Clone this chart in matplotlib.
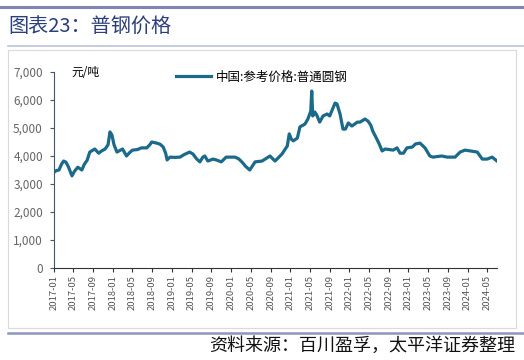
import matplotlib
matplotlib.use("Agg")
import matplotlib.pyplot as plt
import matplotlib.dates as mdates
from matplotlib.lines import Line2D
from matplotlib.patches import Rectangle
import pandas as pd

plt.rcParams['font.family'] = ['Noto Sans CJK SC', 'DejaVu Sans']

# 中国:参考价格:普通圆钢 (元/吨)
dates = [
    "2017-01-01", "2017-01-16", "2017-02-01", "2017-02-16", "2017-03-01", "2017-03-16",
    "2017-04-01", "2017-04-22", "2017-05-07", "2017-05-28", "2017-06-22", "2017-07-07",
    "2017-07-25", "2017-08-10", "2017-09-10", "2017-10-04", "2017-10-22", "2017-11-13",
    "2017-12-01", "2017-12-13", "2017-12-25", "2018-01-07", "2018-01-25", "2018-02-13",
    "2018-03-01", "2018-03-25", "2018-04-13", "2018-05-01", "2018-06-01", "2018-06-25",
    "2018-07-28", "2018-08-16", "2018-08-28", "2018-09-28", "2018-10-19", "2018-11-07",
    "2018-11-22", "2018-12-01", "2018-12-19", "2019-01-16", "2019-02-19", "2019-03-16",
    "2019-04-19", "2019-05-10", "2019-06-01", "2019-06-22", "2019-07-10", "2019-07-22",
    "2019-08-10", "2019-09-10", "2019-10-01", "2019-11-01", "2019-12-01", "2020-01-25",
    "2020-02-16", "2020-03-07", "2020-04-01", "2020-04-25", "2020-05-28", "2020-07-10",
    "2020-08-28", "2020-09-28", "2020-11-10", "2020-12-13", "2020-12-25", "2021-01-07",
    "2021-01-19", "2021-02-13", "2021-03-01", "2021-04-01", "2021-04-19", "2021-05-07",
    "2021-05-13", "2021-05-19", "2021-06-01", "2021-06-13", "2021-07-01", "2021-07-22",
    "2021-08-16", "2021-09-01", "2021-10-04", "2021-10-16", "2021-11-04", "2021-11-22",
    "2021-12-07", "2021-12-25", "2022-01-16", "2022-02-19", "2022-03-07", "2022-04-07",
    "2022-04-25", "2022-05-13", "2022-05-25", "2022-06-19", "2022-07-04", "2022-07-22",
    "2022-08-10", "2022-09-28", "2022-10-22", "2022-11-10", "2022-12-01", "2022-12-22",
    "2023-01-25", "2023-02-13", "2023-03-13", "2023-04-13", "2023-05-13", "2023-06-01",
    "2023-07-25", "2023-08-28", "2023-10-16", "2023-11-16", "2023-12-16", "2024-01-19",
    "2024-03-01", "2024-04-01", "2024-05-01", "2024-06-01", "2024-07-01",
]
prices = [
    3420, 3480, 3500, 3700, 3820, 3780,
    3600, 3290, 3450, 3600, 3500, 3700,
    3850, 4140, 4250, 4100, 4180, 4250,
    4400, 4860, 4750, 4400, 4140, 4200,
    4250, 4000, 4120, 4210, 4230, 4290,
    4290, 4400, 4500, 4460, 4420, 4320,
    4100, 3860, 3960, 3950, 3960, 4050,
    4140, 4070, 3900, 3790, 3960, 4000,
    3820, 3890, 3860, 3790, 3960, 3960,
    3900, 3790, 3620, 3500, 3790, 3820,
    4000, 3820, 4070, 4360, 4790, 4600,
    4540, 4640, 5040, 5140, 5320, 5600,
    6320, 5430, 5570, 5460, 5210, 5430,
    5500, 5430, 5890, 5860, 5500, 4960,
    4960, 5180, 5070, 5210, 5210, 5320,
    5250, 5100, 4890, 4610, 4430, 4180,
    4250, 4210, 4290, 4100, 4100, 4290,
    4320, 4430, 4460, 4290, 4000, 3960,
    4000, 3960, 3960, 4140, 4210, 4180,
    4140, 3890, 3890, 3960, 3820,
]
series_name = "中国:参考价格:普通圆钢"
unit = "元/吨"
title = "图表23：普钢价格"
source = "资料来源：百川盈孚，太平洋证券整理"

x = pd.to_datetime(dates)
tick_dates = pd.date_range("2017-01-01", "2024-05-01", freq="4MS")

fig = plt.figure(figsize=(5.24, 3.6), dpi=100)

# decorative frame lines
fig.add_artist(Line2D([0.0, 1.0], [1 - 7/360, 1 - 7/360], color="#7F86B5", lw=2.2))
fig.add_artist(Line2D([0.015, 1.0], [1 - 46/360, 1 - 46/360], color="#BFC3DA", lw=1.2))
fig.add_artist(Line2D([0.015, 1.0], [1 - 333/360, 1 - 333/360], color="#8F95C0", lw=1.8))
fig.add_artist(Rectangle((8/524, 1 - 328/360), (516 - 8)/524, (328 - 50)/360,
                         fill=False, edgecolor="#DADADA", lw=0.8))

fig.text(8/524, 1 - 27/360, title, fontsize=14.5, color="#2B3F7A", va="center", ha="left")
fig.text(515/524, 1 - 346/360, source, fontsize=13, color="#111111", va="center",
         ha="right", style="italic")

ax = fig.add_axes([54/524, 1 - 268/360, (497 - 54)/524, (268 - 72)/360])
ax.plot(x, prices, color="#1B6A8C", lw=2.3, label=series_name)

ax.set_ylim(0, 7000)
ax.set_yticks(range(0, 7001, 1000))
ax.set_yticklabels([f"{v:,}" for v in range(0, 7001, 1000)])
ax.set_xlim(pd.Timestamp("2017-01-01"), pd.Timestamp("2024-07-01"))
ax.set_xticks(tick_dates)
ax.xaxis.set_major_formatter(mdates.DateFormatter("%Y-%m"))

for s in ["top", "right"]:
    ax.spines[s].set_visible(False)
ax.spines["left"].set_color("#44546A")
ax.spines["bottom"].set_color("#333333")
ax.tick_params(axis="y", labelsize=8.5, labelcolor="#666666", length=3, color="#44546A", pad=5)
ax.tick_params(axis="x", labelsize=6.8, labelcolor="#555555", length=3, color="#333333",
               rotation=90, pad=2)

ax.text(0.04, 0.995, unit, transform=ax.transAxes, fontsize=8.5, va="center", ha="left")
ax.legend(loc="upper left", bbox_to_anchor=(0.25, 1.065), frameon=False, fontsize=9,
          handlelength=2.8, handletextpad=0.4)

fig.savefig("out.png", dpi=100)
